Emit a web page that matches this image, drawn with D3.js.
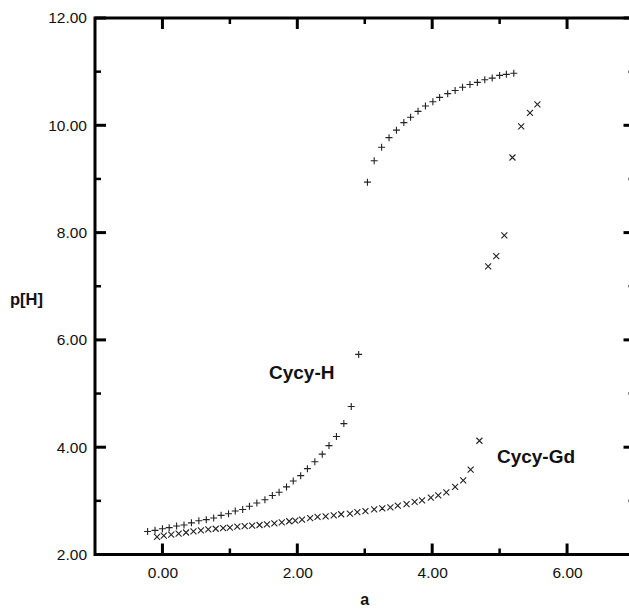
<!DOCTYPE html>
<html>
<head>
<meta charset="utf-8">
<script src="https://cdn.jsdelivr.net/npm/d3@7"></script>
<style>
body{margin:0;background:#fff;}
svg text{font-family:Arial,"Liberation Sans",sans-serif;fill:#111;}
</style>
</head>
<body>
<svg id="chart" width="629" height="614"></svg>
<script>
// Cycy-H (plus markers)
var hA=[-0.22,-0.11,0.00,0.10,0.21,0.32,0.43,0.54,0.65,0.76,0.87,0.98,1.08,1.19,1.29,1.40,1.52,1.63,1.73,1.84,1.94,2.05,2.15,2.26,2.37,2.47,2.58,2.69,2.80,2.91,
        3.04,3.14,3.25,3.36,3.47,3.58,3.68,3.79,3.90,4.01,4.11,4.23,4.34,4.45,4.56,4.67,4.78,4.89,5.00,5.10,5.21];
var hP=[2.43,2.45,2.48,2.50,2.53,2.55,2.59,2.63,2.65,2.68,2.73,2.76,2.81,2.84,2.90,2.96,3.02,3.10,3.16,3.26,3.37,3.47,3.60,3.73,3.87,4.03,4.20,4.44,4.76,5.73,
        8.94,9.34,9.59,9.77,9.91,10.05,10.15,10.26,10.36,10.44,10.52,10.59,10.65,10.71,10.76,10.80,10.85,10.88,10.93,10.95,10.97];
// Cycy-Gd (x markers)
var gdA=[-0.08,0.02,0.13,0.24,0.35,0.46,0.57,0.68,0.79,0.90,1.00,1.11,1.22,1.33,1.44,1.55,1.66,1.77,1.88,1.97,2.07,2.19,2.30,2.42,2.54,2.65,2.78,2.89,3.01,3.14,3.26,3.38,3.49,3.62,3.74,3.85,3.98,4.09,4.21,4.34,4.46,4.57,4.70,
         4.83,4.95,5.07,5.19,5.32,5.45,5.56];
var gdP=[2.33,2.35,2.37,2.39,2.41,2.43,2.45,2.47,2.48,2.49,2.50,2.52,2.53,2.54,2.55,2.56,2.58,2.60,2.62,2.63,2.65,2.68,2.70,2.71,2.73,2.75,2.76,2.79,2.81,2.84,2.86,2.88,2.91,2.94,2.98,3.01,3.06,3.10,3.16,3.26,3.38,3.58,4.12,
         7.37,7.56,7.95,9.40,9.98,10.23,10.39];
var xTicks=[0,2,4,6];
var xMinor=[1,3,5];
var yTicks=[2,4,6,8,10,12];
var yMinor=[3,5,7,9,11];
var seriesLabels=[{t:"Cycy-H",a:1.58,p:5.27},{t:"Cycy-Gd",a:4.96,p:3.71}];
var ink="#000";

var svg=d3.select("#chart");
var x=d3.scaleLinear().domain([-1,7]).range([95,634.5]);
var y=d3.scaleLinear().domain([2,12]).range([554.5,18]);
var fmt=d3.format(".2f");

// frame (right edge falls just outside the picture, like the scan)
svg.append("path")
    .attr("d","M"+x(-1)+","+y(12)+"H"+x(7)+"V"+y(2)+"H"+x(-1)+"Z")
    .attr("fill","none").attr("stroke",ink).attr("stroke-width",3);

// ticks on all four sides, pointing inward
var tk=svg.append("g").attr("stroke",ink);
function hTicks(vals,len,w){
    [[y(2),-len],[y(12),len]].forEach(function(s){
        tk.selectAll(null).data(vals).enter().append("line")
            .attr("x1",function(d){return x(d);}).attr("x2",function(d){return x(d);})
            .attr("y1",s[0]).attr("y2",s[0]+s[1]).attr("stroke-width",w);
    });
}
function vTicks(vals,len,w){
    [[x(-1),len],[x(7),-len]].forEach(function(s){
        tk.selectAll(null).data(vals).enter().append("line")
            .attr("y1",function(d){return y(d);}).attr("y2",function(d){return y(d);})
            .attr("x1",s[0]).attr("x2",s[0]+s[1]).attr("stroke-width",w);
    });
}
hTicks(xTicks,11,3);
hTicks(xMinor,6,2.5);
vTicks(yTicks,11,3);
vTicks(yMinor,6,2.5);

// tick labels through d3 axes (lines hidden)
var gx=svg.append("g").attr("transform","translate(0,"+y(2)+")")
    .call(d3.axisBottom(x).tickValues(xTicks).tickSize(0).tickPadding(12).tickFormat(fmt));
var gy=svg.append("g").attr("transform","translate("+x(-1)+",0)")
    .call(d3.axisLeft(y).tickValues(yTicks).tickSize(0).tickPadding(8).tickFormat(fmt));
[gx,gy].forEach(function(g){
    g.select(".domain").remove();
    g.selectAll(".tick line").remove();
    g.selectAll(".tick text").style("font-size","15.5px");
});

// markers
var hData=hA.map(function(a,i){return {a:a,p:hP[i]};});
var gdData=gdA.map(function(a,i){return {a:a,p:gdP[i]};});

svg.append("g").selectAll("path").data(hData).enter().append("path")
    .attr("transform",function(d){return "translate("+x(d.a)+","+y(d.p)+")";})
    .attr("d","M-3.5,0H3.5M0,-3.5V3.5")
    .attr("stroke","#222").attr("stroke-width",1.1).attr("fill","none");

svg.append("g").selectAll("path").data(gdData).enter().append("path")
    .attr("transform",function(d){return "translate("+x(d.a)+","+y(d.p)+")";})
    .attr("d","M-3,-3L3,3M-3,3L3,-3")
    .attr("stroke","#222").attr("stroke-width",1.1).attr("fill","none");

// series labels
svg.selectAll(".lbl").data(seriesLabels).enter().append("text")
    .attr("class","lbl")
    .attr("x",function(d){return x(d.a);})
    .attr("y",function(d){return y(d.p);})
    .style("font-size","19px").style("font-weight","bold")
    .text(function(d){return d.t;});

// axis titles
svg.append("text").attr("x",10).attr("y",305)
    .style("font-size","16.5px").style("font-weight","bold").text("p[H]");
svg.append("text").attr("x",(x(-1)+x(7))/2).attr("y",605).attr("text-anchor","middle")
    .style("font-size","16px").style("font-weight","bold").text("a");
</script>
</body>
</html>
